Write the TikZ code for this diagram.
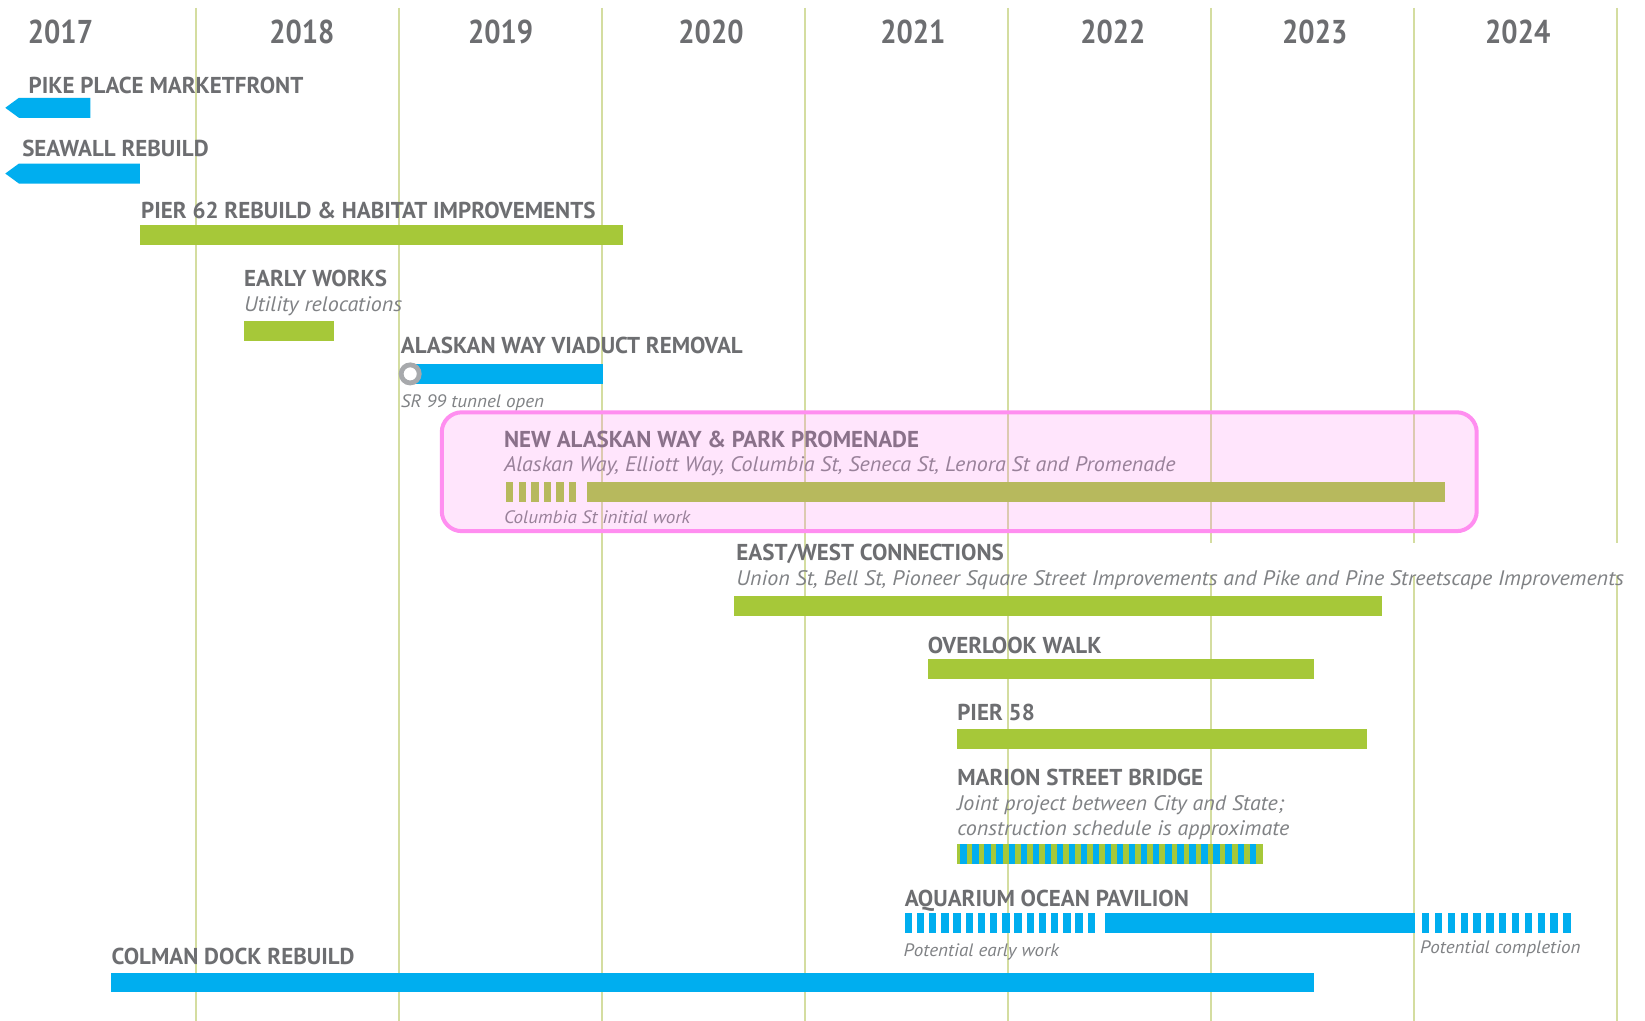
\documentclass[tikz,border=0pt]{standalone}
\usepackage{fontspec}
\newfontfamily\lblfont{PT Sans}[FakeStretch=1.0]
\newfontfamily\yrfont{PT Sans}[FakeStretch=0.87]
\newfontfamily\subfont{PT Sans}[FakeStretch=1.05]
\newfontfamily\notefont{PT Sans}[FakeStretch=1.06]
\definecolor{txtgray}{HTML}{6D6E71}
\definecolor{subgray}{HTML}{808285}
\definecolor{barblue}{HTML}{00AEEF}
\definecolor{bargreen}{RGB}{166,200,57}
\definecolor{gridc}{RGB}{212,221,160}
\definecolor{ringc}{HTML}{A7A9AC}
\definecolor{pinkline}{RGB}{255,142,240}
\definecolor{pinkfill}{RGB}{255,128,240}
\tikzset{
  gridline/.style={draw=gridc, line width=2pt},
  yearlbl/.style={inner sep=0pt, text=txtgray, font=\yrfont\bfseries\fontsize{33}{33}\selectfont},
  projlbl/.style={inner sep=0pt, anchor=base west, text=txtgray, font=\lblfont\bfseries\fontsize{23}{23}\selectfont},
  sublbl/.style={inner sep=0pt, anchor=base west, text=subgray, font=\subfont\itshape\fontsize{21}{21}\selectfont},
  notelbl/.style={inner sep=0pt, anchor=base west, text=subgray, font=\notefont\itshape\fontsize{18}{18}\selectfont},
  bluebar/.style={fill=barblue},
  greenbar/.style={fill=bargreen},
  hilite/.style={draw=pinkline, line width=4pt, fill=pinkfill, fill opacity=0.2, rounded corners=20pt}
}
\begin{document}
\begin{tikzpicture}[x=1.052pt,y=-1.052pt]
\useasboundingbox (0,0) rectangle (1564,970.5);
\fill[white] (0,0) rectangle (1564,970.5);
% grid lines
\foreach \i in {0,...,4} {
  \draw[gridline] ({186+193*\i},7.6) -- ({186+193*\i},970.5);
}
\foreach \i in {5,6,7} {
  \draw[gridline] ({186+193*\i},7.6) -- ({186+193*\i},516);
  \draw[gridline] ({186+193*\i},547) -- ({186+193*\i},970.5);
}
% years
\node[yearlbl] (y2017) at (57.5,30) {2017};
\node[yearlbl] (y2018) at (287,30) {2018};
\node[yearlbl] (y2019) at (476,30) {2019};
\node[yearlbl] (y2020) at (676,30) {2020};
\node[yearlbl] (y2021) at (868,30) {2021};
\node[yearlbl] (y2022) at (1058,30) {2022};
\node[yearlbl] (y2023) at (1250,30) {2023};
\node[yearlbl] (y2024) at (1443,30) {2024};
% Pike Place
\node[projlbl] (pike) at (27,88.5) {PIKE PLACE MARKETFRONT};
\fill[bluebar] (5,102.5) -- (18,93) -- (86,93) -- (86,112) -- (18,112) -- cycle;
% Seawall
\node[projlbl] (seawall) at (21,148.5) {SEAWALL REBUILD};
\fill[bluebar] (5,165) -- (18,155.5) -- (133,155.5) -- (133,174.5) -- (18,174.5) -- cycle;
% Pier 62
\node[projlbl] (pier62) at (134,207.5) {PIER 62 REBUILD \& HABITAT IMPROVEMENTS};
\fill[greenbar] (133,214) rectangle (592,233);
% Early works
\node[projlbl] (early) at (232,272) {EARLY WORKS};
\node[sublbl] (earlysub) at (232,296) {Utility relocations};
\fill[greenbar] (232,305) rectangle (318,324);
% Viaduct
\node[projlbl] (viaduct) at (381,336) {ALASKAN WAY VIADUCT REMOVAL};
\fill[bluebar] (390,346) rectangle (573,365);
\draw[draw=ringc, line width=4.8pt, fill=white] (390,355.5) circle (8.6);
\node[notelbl] (sr99) at (381,387) {SR 99 tunnel open};
% New Alaskan Way
\node[projlbl] (newaw) at (479,425) {NEW ALASKAN WAY \& PARK PROMENADE};
\node[sublbl] (newawsub) at (479,448) {Alaskan Way, Elliott Way, Columbia St, Seneca St, Lenora St and Promenade};
\foreach \i in {0,...,5} { \fill[greenbar] ({481+\i*12},458) rectangle ({488+\i*12},477); }
\fill[greenbar] (558,458) rectangle (1374,477);
\node[notelbl] (colinit) at (479,498) {Columbia St initial work};
\path[hilite] (420,392) rectangle (1404,505);
% East/West
\node[projlbl] (ew) at (700,533) {EAST/WEST CONNECTIONS};
\node[sublbl] (ewsub) at (700,557) {Union St, Bell St, Pioneer Square Street Improvements and Pike and Pine Streetscape Improvements};
\fill[greenbar] (698,567) rectangle (1314,586);
% Overlook
\node[projlbl] (overlook) at (882,621) {OVERLOOK WALK};
\fill[greenbar] (882,627) rectangle (1249,646);
% Pier 58
\node[projlbl] (pier58) at (910,685) {PIER 58};
\fill[greenbar] (910,693) rectangle (1300,712);
% Marion
\node[projlbl] (marion) at (910,747) {MARION STREET BRIDGE};
\node[sublbl] (marsub1) at (910,771) {Joint project between City and State;};
\node[sublbl] (marsub2) at (910,794) {construction schedule is approximate};
\fill[greenbar] (910,802) rectangle (1201,821);
\foreach \i in {0,...,24} { \fill[bluebar] ({913+\i*11.46},802) rectangle ({919+\i*11.46},821); }
% Aquarium
\node[projlbl] (aquarium) at (860,862) {AQUARIUM OCEAN PAVILION};
\foreach \i in {0,...,15} { \fill[bluebar] ({860+\i*11.6},868) rectangle ({867+\i*11.6},887); }
\fill[bluebar] (1051,868) rectangle (1345,887);
\foreach \i in {0,...,11} { \fill[bluebar] ({1352+\i*12.2},868) rectangle ({1359+\i*12.2},887); }
\node[notelbl] (earlywork) at (859,909) {Potential early work};
\node[notelbl] (complet) at (1350,907) {Potential completion};
% Colman
\node[projlbl] (colman) at (106,917) {COLMAN DOCK REBUILD};
\fill[bluebar] (106,925) rectangle (1249,943);
\end{tikzpicture}
\end{document}
